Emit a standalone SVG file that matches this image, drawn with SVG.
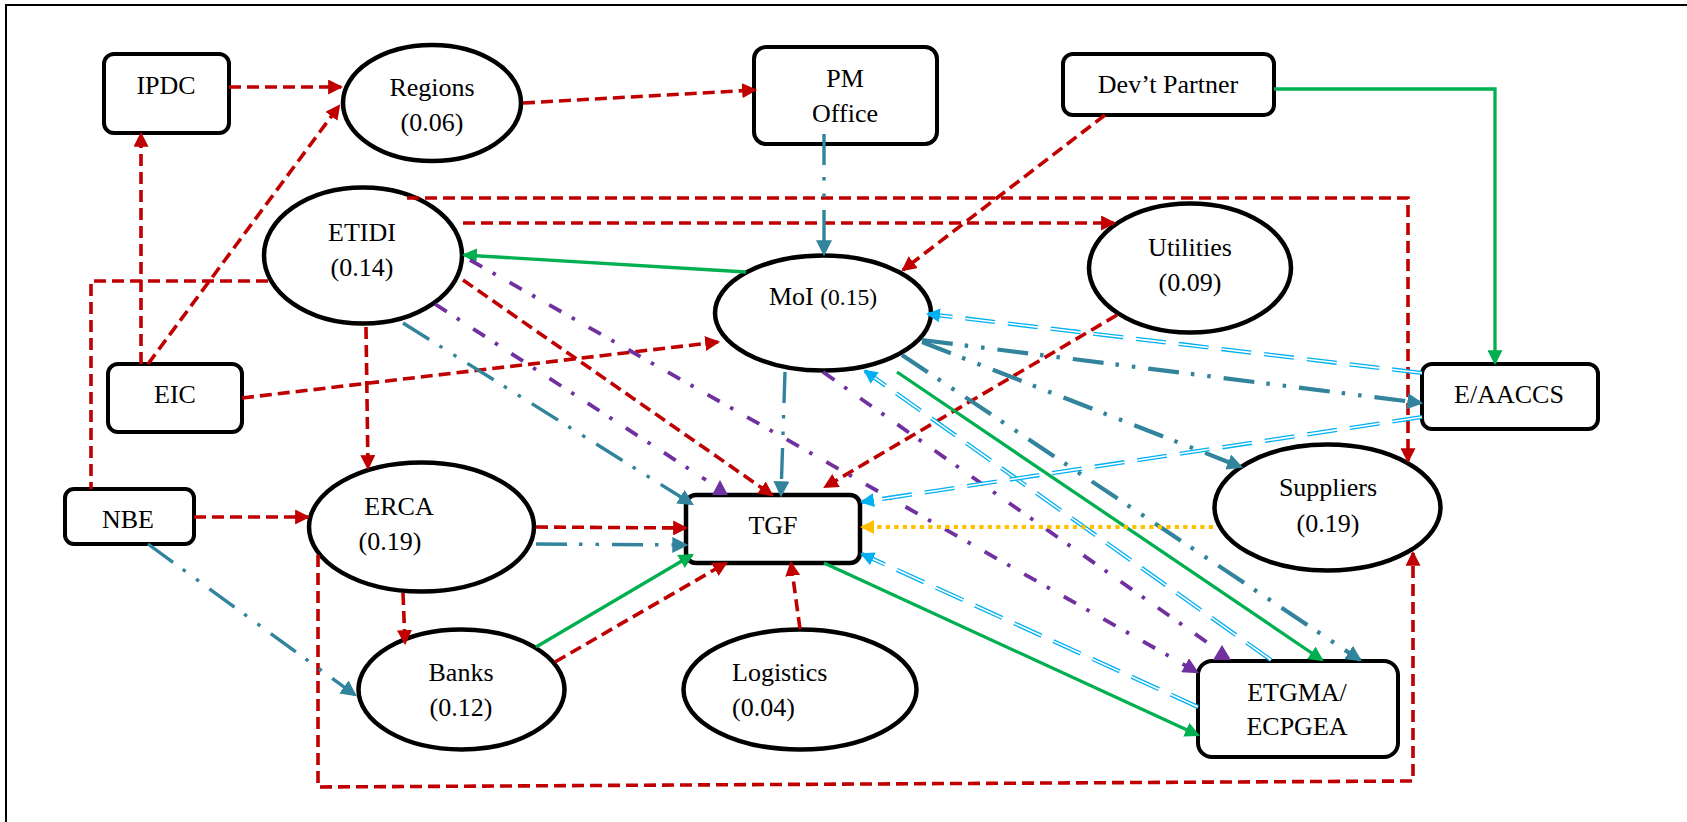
<svg xmlns="http://www.w3.org/2000/svg" width="1687" height="822" viewBox="0 0 1687 822">
<style>
text{font-family:'Liberation Serif','Times New Roman',serif;font-size:26px;fill:#000;text-anchor:middle}
.n{fill:#fff;stroke:#000;stroke-width:4.5}
.b{fill:#fff;stroke:#000;stroke-width:4}
.r{fill:none;stroke:#C00000;stroke-width:3.6;stroke-dasharray:12 6}
.t{fill:none;stroke:#31849B;stroke-width:3.4;stroke-dasharray:31 12 3.5 13 3.5 13}
.tt{stroke-width:4.2}
.g{fill:none;stroke:#00B050;stroke-width:3.3}
.p{fill:none;stroke:#7030A0;stroke-width:3.8;stroke-dasharray:14 12 3.5 16}
.lb{fill:none;stroke:#00B0F0;stroke-width:4.2;stroke-dasharray:30 13}
.lbi{fill:none;stroke:#fff;stroke-width:1.6;stroke-dasharray:30 13}
.lbm{fill:none;stroke:none}
.y{fill:none;stroke:#FFC000;stroke-width:4.2;stroke-dasharray:4.2 4.3}
</style>
<defs>
<marker id="mr" viewBox="0 0 14 14" refX="12" refY="7" markerWidth="15" markerHeight="15" markerUnits="userSpaceOnUse" orient="auto"><path d="M0,0 L14,7 L0,14 z" fill="#C00000"/></marker>
<marker id="mt" viewBox="0 0 14 14" refX="12" refY="7" markerWidth="16" markerHeight="16" markerUnits="userSpaceOnUse" orient="auto"><path d="M0,0 L14,7 L0,14 z" fill="#31849B"/></marker>
<marker id="mg" viewBox="0 0 14 14" refX="12" refY="7" markerWidth="15" markerHeight="15" markerUnits="userSpaceOnUse" orient="auto"><path d="M0,0 L14,7 L0,14 z" fill="#00B050"/></marker>
<marker id="mp" viewBox="0 0 14 14" refX="12" refY="7" markerWidth="16" markerHeight="16" markerUnits="userSpaceOnUse" orient="auto"><path d="M0,0 L14,7 L0,14 z" fill="#7030A0"/></marker>
<marker id="mb" viewBox="0 0 14 14" refX="12" refY="7" markerWidth="14" markerHeight="14" markerUnits="userSpaceOnUse" orient="auto"><path d="M0,0 L14,7 L0,14 z" fill="#00B0F0"/></marker>
<marker id="my" viewBox="0 0 14 14" refX="12" refY="7" markerWidth="14" markerHeight="14" markerUnits="userSpaceOnUse" orient="auto"><path d="M0,0 L14,7 L0,14 z" fill="#FFC000"/></marker>
</defs>
<rect width="1687" height="822" fill="#fff"/>
<path d="M6,822 V5 H1687" fill="none" stroke="#000" stroke-width="2"/>

<g font-family="Liberation Serif, Times New Roman, serif">
<g id="IPDC"><rect class="b" x="104" y="54" width="125" height="79" rx="10"/><text x="166" y="94">IPDC</text></g>
<g id="Regions"><ellipse class="n" cx="432" cy="103" rx="89" ry="58"/><text x="432" y="96">Regions</text><text x="432" y="131">(0.06)</text></g>
<g id="PMOffice"><rect class="b" x="754" y="47" width="183" height="97" rx="12"/><text x="845" y="87">PM</text><text x="845" y="122">Office</text></g>
<g id="DevPartner"><rect class="b" x="1063" y="54" width="211" height="61" rx="10"/><text x="1168" y="93">Dev’t Partner</text></g>
<g id="ETIDI"><ellipse class="n" cx="363" cy="255.5" rx="99" ry="68"/><text x="362" y="241">ETIDI</text><text x="362" y="276">(0.14)</text></g>
<g id="MoI"><ellipse class="n" cx="823" cy="313" rx="108" ry="57.5"/><text x="823" y="305">MoI <tspan font-size="23.5">(0.15)</tspan></text></g>
<g id="Utilities"><ellipse class="n" cx="1190" cy="268" rx="101" ry="64.5"/><text x="1190" y="256">Utilities</text><text x="1190" y="291">(0.09)</text></g>
<g id="EIC"><rect class="b" x="108" y="364" width="134" height="68" rx="10"/><text x="175" y="403">EIC</text></g>
<g id="EAACCS"><rect class="b" x="1422" y="364" width="176" height="65" rx="10"/><text x="1509" y="403">E/AACCS</text></g>
<g id="NBE"><rect class="b" x="65" y="489" width="129" height="55" rx="9"/><text x="128" y="528">NBE</text></g>
<g id="ERCA"><ellipse class="n" cx="421.5" cy="527" rx="112.5" ry="64.5"/><text x="399" y="515">ERCA</text><text x="390" y="550">(0.19)</text></g>
<g id="TGF"><rect class="n" x="686" y="495" width="174" height="68" rx="10" stroke-width="5"/><text x="773" y="534">TGF</text></g>
<g id="Suppliers"><ellipse class="n" cx="1327.5" cy="507.5" rx="113" ry="63"/><text x="1328" y="496">Suppliers</text><text x="1328" y="532">(0.19)</text></g>
<g id="Banks"><ellipse class="n" cx="461.5" cy="689.5" rx="103" ry="60"/><text x="461" y="681">Banks</text><text x="461" y="716">(0.12)</text></g>
<g id="Logistics"><ellipse class="n" cx="800" cy="689.5" rx="116.5" ry="60"/><text x="732" y="681" style="text-anchor:start">Logistics</text><text x="732" y="716" style="text-anchor:start">(0.04)</text></g>
<g id="ETGMA"><rect class="b" x="1198" y="661" width="200" height="96" rx="14"/><text x="1297" y="701">ETGMA/</text><text x="1297" y="735">ECPGEA</text></g>
</g>

<g id="connectors">
<path class="r" d="M229,87 L341,87" marker-end="url(#mr)"/>
<path class="r" d="M141,364 L141,134" marker-end="url(#mr)"/>
<path class="r" d="M148,364 L339,106" marker-end="url(#mr)"/>
<path class="r" d="M523,103 L755,90" marker-end="url(#mr)"/>
<path class="r" d="M1105,115 L903,270" marker-end="url(#mr)"/>
<path class="r" d="M407,198 H1408 V461" marker-end="url(#mr)"/>
<path class="r" d="M463,223 L1114,223" marker-end="url(#mr)"/>
<path class="r" d="M268,281 H91 V489"/>
<path class="r" d="M242,398 L718,342" marker-end="url(#mr)"/>
<path class="r" d="M366,327 L368,468" marker-end="url(#mr)"/>
<path class="r" d="M463,280 L772,495" marker-end="url(#mr)"/>
<path class="r" d="M1117,315 L825,487" marker-end="url(#mr)"/>
<path class="r" d="M800,629 L791,563" marker-end="url(#mr)"/>
<path class="r" d="M555,662 L726,563" marker-end="url(#mr)"/>
<path class="r" d="M536,527 L686,528" marker-end="url(#mr)"/>
<path class="r" d="M403,593 L405,643" marker-end="url(#mr)"/>
<path class="r" d="M194,517 L308,517" marker-end="url(#mr)"/>
<path class="r" d="M318,555 V787 L1413,781 V553" marker-end="url(#mr)"/>

<path class="t" d="M824,134 L824,254" marker-end="url(#mt)"/>
<path class="t" d="M403,323 L692,504" marker-end="url(#mt)"/>
<path class="t" d="M785,372 L781,495" marker-end="url(#mt)"/>
<path class="t tt" d="M922,340 L1421,403" marker-end="url(#mt)"/>
<path class="t tt" d="M922,342 L1241,467" marker-end="url(#mt)"/>
<path class="t tt" d="M902,355 L1360,660" marker-end="url(#mt)"/>
<path class="t" d="M536,544 L686,545" marker-end="url(#mt)"/>
<path class="t" d="M148,544 L355,695" marker-end="url(#mt)"/>

<path class="g" d="M1274,89 H1495 V363" marker-end="url(#mg)"/>
<path class="g" d="M746,272 L464,255" marker-end="url(#mg)"/>
<path class="g" d="M897,372 L1322,660" marker-end="url(#mg)"/>
<path class="g" d="M824,563 L1198,735" marker-end="url(#mg)"/>
<path class="g" d="M536,647 L692,555" marker-end="url(#mg)"/>

<path class="p" d="M435,304 L706,480"/>
<polygon points="712,495 728,495 720,480" fill="#7030A0"/>
<path class="p" d="M470,260 L1197,672" marker-end="url(#mp)"/>
<path class="p" d="M823,372 L1208,643"/>
<polygon points="1213,660 1231,660 1222,645" fill="#7030A0"/>

<path class="lb" d="M1422,373 L928,314"/><path class="lbi" d="M1422,373 L928,314"/><path class="lbm" d="M1422,373 L928,314" marker-end="url(#mb)"/>
<path class="lb" d="M1271,660 L865,371"/><path class="lbi" d="M1271,660 L865,371"/><path class="lbm" d="M1271,660 L865,371" marker-end="url(#mb)"/>
<path class="lb" d="M1422,417 L862,502"/><path class="lbi" d="M1422,417 L862,502"/><path class="lbm" d="M1422,417 L862,502" marker-end="url(#mb)"/>
<path class="lb" d="M1198,707 L862,554"/><path class="lbi" d="M1198,707 L862,554"/><path class="lbm" d="M1198,707 L862,554" marker-end="url(#mb)"/>

<path class="y" d="M1213,527 L862,527" marker-end="url(#my)"/>
</g>
</svg>
